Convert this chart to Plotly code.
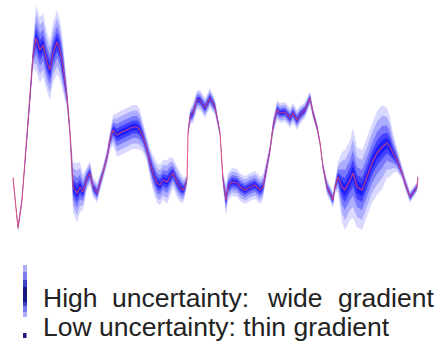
import plotly.graph_objects as go

# Mean signal over time and its uncertainty (half-width of the widest band)
t = [0.5, 3, 5, 6.5, 9, 10.5, 12, 14, 15.5, 17.5, 19, 20.5, 22.5, 24, 25.5, 27.5, 29, 30, 30.5,
     32.5, 34, 35.5, 37.5, 39, 40.5, 42.5, 44, 45.5, 47.5, 49, 50.5, 52.5, 54, 57.5, 60.5, 62.5,
     64, 65.5, 67.5, 69, 70.5, 72.5, 74, 75.5, 77.5, 79, 80.5, 82.5, 84, 85.5, 86.5, 87.5, 88,
     89, 90.5, 92.5, 94, 96.5, 99, 101.5, 104, 105.5, 107, 108, 110, 112.5, 114, 116.5, 119,
     121.5, 124, 125.5, 127.5, 129, 130.5, 132.5, 134, 136.5, 139, 140.5, 142.5, 144, 146.5,
     149, 150.5, 152.5, 154, 155.5, 157.5, 159, 160.5, 161.5, 163, 165, 166.5, 169, 170.5,
     172.5, 175, 177.5, 180, 182.5, 185, 187.5, 189, 190.5, 192.5, 195, 196.5, 199, 200.5,
     202.5, 203]
mean = [7.2, 2.2, 5.0, 9.0, 15.0, 19.5, 21.2, 20.0, 20.5, 18.8, 18.0, 19.7, 20.8, 20.0, 18.3,
        15.3, 11.7, 8.3, 6.3, 5.7, 6.3, 5.8, 7.2, 7.7, 6.3, 5.7, 6.7, 7.7, 9.3, 11.0, 12.0, 11.5,
        11.7, 12.0, 12.3, 12.3, 12.0, 11.3, 10.0, 8.7, 7.7, 6.7, 6.5, 7.0, 6.8, 7.3, 7.7, 6.8,
        6.3, 6.0, 6.3, 7.0, 11.7, 13.3, 13.7, 15.0, 15.0, 14.2, 15.2, 14.3, 11.7, 7.0, 5.0, 6.3,
        6.8, 6.7, 6.3, 6.0, 6.3, 6.5, 6.0, 6.3, 8.3, 10.0, 12.3, 14.0, 13.7, 13.8, 13.2, 13.7,
        13.0, 13.5, 14.0, 15.2, 13.7, 12.3, 10.7, 8.3, 6.3, 5.7, 5.0, 6.3, 7.3, 6.3, 6.0, 7.0,
        7.7, 6.3, 6.0, 7.3, 8.7, 9.7, 10.3, 10.7, 10.3, 9.7, 9.0, 7.7, 6.7, 5.3, 5.7, 6.3, 7.3]
spread = [0.3, 0.4, 0.5, 0.5, 0.6, 1.4, 3.3, 3.3, 3.2, 3.0, 3.0, 3.0, 3.2, 3.0, 2.5, 1.2, 0.8,
          1.5, 2.5, 3.0, 2.5, 1.8, 1.2, 1.2, 1.0, 1.0, 0.9, 0.8, 0.8, 1.0, 1.5, 2.2, 2.2, 2.2,
          2.2, 2.2, 2.0, 1.5, 1.2, 1.5, 1.8, 2.0, 2.0, 2.0, 2.2, 2.0, 1.5, 1.5, 1.5, 1.3, 1.0,
          0.5, 0.5, 0.8, 1.0, 1.0, 1.0, 1.0, 1.0, 0.8, 0.4, 0.8, 1.6, 1.4, 1.4, 1.4, 1.4, 1.4,
          1.4, 1.4, 1.4, 1.2, 0.8, 0.6, 0.8, 1.0, 1.0, 1.0, 1.0, 1.0, 1.0, 0.9, 0.8, 0.7, 0.6,
          0.5, 0.4, 0.5, 0.8, 0.8, 0.8, 0.6, 1.5, 3.5, 4.0, 4.0, 4.5, 4.0, 4.0, 4.0, 4.0, 4.2,
          4.2, 3.5, 3.0, 2.0, 1.2, 0.6, 0.6, 0.6, 0.6, 0.5, 0.4]

# Nested bands (fraction of spread, fill opacity): stacking gives the gradient look
band_levels = [1.0, 0.75, 0.5, 0.3, 0.15]
band_alpha = [0.15, 0.2, 0.3, 0.45, 0.55]

legend_lines = ["High uncertainty: wide gradient", "Low uncertainty: thin gradient"]

W, H = 440, 346

fig = go.Figure()

for k, a in zip(band_levels, band_alpha):
    upper = [m + k * s for m, s in zip(mean, spread)]
    lower = [m - k * s for m, s in zip(mean, spread)]
    fig.add_trace(go.Scatter(
        x=t + t[::-1], y=upper + lower[::-1],
        fill="toself", fillcolor=f"rgba(0,0,255,{a})",
        line=dict(width=0), mode="lines", hoverinfo="skip", showlegend=False,
    ))

fig.add_trace(go.Scatter(
    x=t, y=mean, mode="lines",
    line=dict(color="rgba(235,70,100,0.75)", width=1.2),
    showlegend=False,
))

def px(x):
    return x / W

def py(y):
    return 1 - y / H

# Legend key: vertical gradient bar and a small dot
shapes = []
for (y0, y1, col) in [(265, 317, "rgba(140,140,245,0.7)"),
                      (272, 312, "rgba(90,90,230,0.6)"),
                      (280, 306, "rgba(40,40,180,0.7)"),
                      (287, 302, "rgba(20,20,120,0.85)")]:
    shapes.append(dict(type="rect", xref="paper", yref="paper",
                       x0=px(23), x1=px(27), y0=py(y1), y1=py(y0),
                       fillcolor=col, line=dict(width=0)))
shapes.append(dict(type="rect", xref="paper", yref="paper",
                   x0=px(23), x1=px(26.5), y0=py(338), y1=py(333),
                   fillcolor="#1a1a80", line=dict(width=0)))

font = dict(family="Liberation Sans, Arial", size=26.5, color="#222222")
annotations = []
words = legend_lines[0].split(" ")
for word, x in zip(words, [41, 110, 265, 336]):
    annotations.append(dict(text=word, xref="paper", yref="paper",
                            x=px(x), y=py(315), xanchor="left", yanchor="bottom",
                            showarrow=False, font=font))
annotations.append(dict(text=legend_lines[1], xref="paper", yref="paper",
                        x=px(41), y=py(344), xanchor="left", yanchor="bottom",
                        showarrow=False, font=font))

fig.update_layout(
    width=W, height=H,
    margin=dict(l=0, r=0, t=0, b=0),
    paper_bgcolor="white", plot_bgcolor="white",
    xaxis=dict(range=[-6, 214], visible=False),
    yaxis=dict(range=[-9.6, 25], visible=False),
    shapes=shapes, annotations=annotations,
)

fig.write_html("out.html")
